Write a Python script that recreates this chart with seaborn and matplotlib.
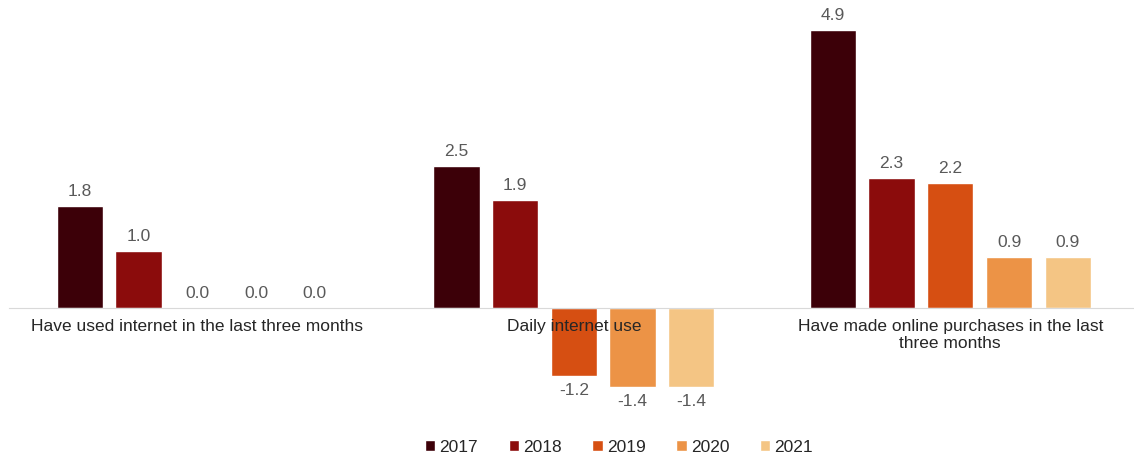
import pandas as pd
import matplotlib.pyplot as plt
import seaborn as sns

sns.set_style("white")
plt.rcParams['font.family'] = ['Liberation Sans', 'DejaVu Sans']

categories = ['Have used internet in the last three months',
              'Daily internet use',
              'Have made online purchases in the last\nthree months']
years = ['2017', '2018', '2019', '2020', '2021']
v2017 = [1.8, 2.5, 4.9]
v2018 = [1.0, 1.9, 2.3]
v2019 = [0.0, -1.2, 2.2]
v2020 = [0.0, -1.4, 0.9]
v2021 = [0.0, -1.4, 0.9]
colors = ['#3c0008', '#8b0c0c', '#d64f12', '#ec9346', '#f4c584']

rows = []
for yr, vals in zip(years, [v2017, v2018, v2019, v2020, v2021]):
    for cat, v in zip(categories, vals):
        rows.append({'category': cat, 'year': yr, 'value': v})
df = pd.DataFrame(rows)

fig = plt.figure(figsize=(11.34, 4.55), dpi=100)
ax = fig.add_axes([0.008, 0.077, 0.996, 0.901])
sns.barplot(data=df, x='category', y='value', hue='year', order=categories,
            hue_order=years, palette=colors, width=0.78, gap=0.21,
            saturation=1, ax=ax, zorder=1)

# value labels
for cont in ax.containers:
    labels = [f'{v:.1f}' for v in cont.datavalues]
    ax.bar_label(cont, labels=labels, padding=5, fontsize=12.5, color='#595959')

ax.set_ylim(-1.98, 5.26)
ax.set_xlim(-0.5, 2.5)
for s in ['top', 'right', 'left']:
    ax.spines[s].set_visible(False)
ax.spines['bottom'].set_position(('data', 0))
ax.spines['bottom'].set_color('#d9d9d9')
ax.set_yticks([])
ax.set_xlabel('')
ax.set_ylabel('')
ax.tick_params(axis='x', length=0, pad=8, labelsize=12.5, labelcolor='#262626')
ax.xaxis.set_zorder(5)

ax.legend(loc='upper center', bbox_to_anchor=(0.54, -0.01), ncol=5, frameon=False,
          handlelength=0.6, handleheight=0.6, handletextpad=0.25, columnspacing=1.75,
          fontsize=12.5, labelcolor='#262626')

fig.savefig('out.png', dpi=100)
